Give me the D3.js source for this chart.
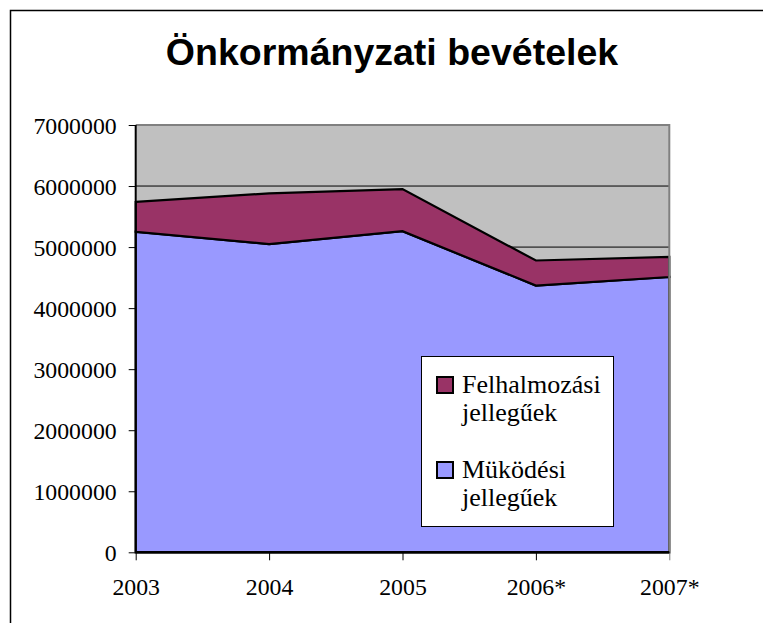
<!DOCTYPE html>
<html>
<head>
<meta charset="utf-8">
<script src="https://cdn.jsdelivr.net/npm/d3@7"></script>
<style>
  html, body { margin: 0; background: #fff; overflow: hidden; }
  svg { display: block; }
</style>
</head>
<body>
<div class="areaChart"></div>
<script>
// chart data
var years = ["2003", "2004", "2005", "2006*", "2007*"];
var mukodesi = [5250000, 5050000, 5260000, 4370000, 4510000];
var felhalmozasi = [490000, 830000, 690000, 410000, 330000];
var yTicks = [0, 1000000, 2000000, 3000000, 4000000, 5000000, 6000000, 7000000];
var seriesColors = ["#9999ff", "#993366"];

var serif = "'Liberation Serif', 'Times New Roman', serif";

var svgWidth = 763;
var svgHeight = 623;

var plot = { left: 135.7, right: 669.3, top: 125, bottom: 552.3 };

var svg = d3.select(".areaChart")
  .append("svg")
  .attr("width", svgWidth)
  .attr("height", svgHeight);

// outer border (right / bottom run off the page)
svg.append("rect")
  .attr("x", 10.5).attr("y", 10.5)
  .attr("width", 800).attr("height", 700)
  .attr("fill", "none")
  .attr("stroke", "#000")
  .attr("stroke-width", 1.5);

// title
svg.append("text")
  .attr("x", 392)
  .attr("y", 65)
  .attr("text-anchor", "middle")
  .style("font-family", "'Liberation Sans', Arial, sans-serif")
  .style("font-weight", "bold")
  .style("font-size", "37.5px")
  .text("Önkormányzati bevételek");

var xScale = d3.scalePoint()
  .domain(years)
  .range([plot.left, plot.right]);

var yScale = d3.scaleLinear()
  .domain([0, 7000000])
  .range([plot.bottom, plot.top]);

// plot background
svg.append("rect")
  .attr("x", plot.left).attr("y", plot.top)
  .attr("width", plot.right - plot.left)
  .attr("height", plot.bottom - plot.top)
  .attr("fill", "#c0c0c0");

// gridlines
svg.append("g").selectAll("line")
  .data(yTicks.slice(1, -1))
  .enter()
  .append("line")
  .attr("x1", plot.left).attr("x2", plot.right)
  .attr("y1", d => yScale(d)).attr("y2", d => yScale(d))
  .attr("stroke", "#000")
  .attr("stroke-width", 1);

// stacked areas
var tableData = years.map((y, i) => ({ year: y, m: mukodesi[i], f: felhalmozasi[i] }));
var stack = d3.stack().keys(["m", "f"]);
var layers = stack(tableData);

var area = d3.area()
  .x(d => xScale(d.data.year))
  .y0(d => yScale(d[0]))
  .y1(d => yScale(d[1]));

svg.append("g").selectAll("path")
  .data(layers)
  .enter()
  .append("path")
  .attr("d", area)
  .attr("fill", (d, i) => seriesColors[i])
  .attr("stroke", "#000")
  .attr("stroke-width", 2.2)
  .attr("stroke-linejoin", "miter");

// plot frame: top and right gray
svg.append("path")
  .attr("d", `M${plot.left},${plot.top}H${plot.right}V${plot.bottom}`)
  .attr("fill", "none")
  .attr("stroke", "#808080")
  .attr("stroke-width", 2);

// axes
var yAxis = svg.append("g")
  .attr("transform", `translate(${plot.left}, 0)`)
  .call(d3.axisLeft(yScale).tickValues(yTicks).tickFormat(d3.format("d")).tickSize(7).tickPadding(12));
yAxis.select(".domain").remove();
yAxis.selectAll("text")
  .attr("dy", "0.34em")
  .style("font-family", serif)
  .style("font-size", "23.8px")
  .style("fill", "#000");

var xAxis = svg.append("g")
  .attr("transform", `translate(0, ${plot.bottom})`)
  .call(d3.axisBottom(xScale).tickSize(8).tickPadding(18));
xAxis.select(".domain").remove();
xAxis.selectAll("line").attr("stroke", (d, i) => i == years.length - 1 ? "#808080" : "#000");
xAxis.selectAll("text")
  .style("font-family", serif)
  .style("font-size", "23.8px")
  .style("fill", "#000");

svg.append("line")
  .attr("x1", plot.left).attr("x2", plot.left)
  .attr("y1", plot.top).attr("y2", plot.bottom)
  .attr("stroke", "#000").attr("stroke-width", 2);
svg.append("line")
  .attr("x1", plot.left).attr("x2", plot.right)
  .attr("y1", plot.bottom).attr("y2", plot.bottom)
  .attr("stroke", "#000").attr("stroke-width", 2.5);

// legend
var legend = svg.append("g").attr("transform", "translate(421, 356)");
legend.append("rect")
  .attr("x", 0.5).attr("y", 0.5)
  .attr("width", 192).attr("height", 170)
  .attr("fill", "#fff")
  .attr("stroke", "#000");

var legendItems = [
  { color: seriesColors[1], lines: ["Felhalmozási", "jellegűek"], top: 20 },
  { color: seriesColors[0], lines: ["Müködési", "jellegűek"], top: 105 }
];

var items = legend.selectAll(".legendItem")
  .data(legendItems)
  .enter()
  .append("g")
  .classed("legendItem", true)
  .attr("transform", d => `translate(0, ${d.top})`);

items.append("rect")
  .attr("x", 16).attr("y", 1)
  .attr("width", 16).attr("height", 16)
  .attr("fill", d => d.color)
  .attr("stroke", "#000")
  .attr("stroke-width", 2);

items.each(function(d) {
  var t = d3.select(this).append("text")
    .style("font-family", serif)
    .style("font-size", "26px")
    .style("fill", "#000");
  d.lines.forEach((ln, j) => {
    t.append("tspan").attr("x", 41).attr("y", 17 + j * 28).text(ln);
  });
});
</script>
</body>
</html>
